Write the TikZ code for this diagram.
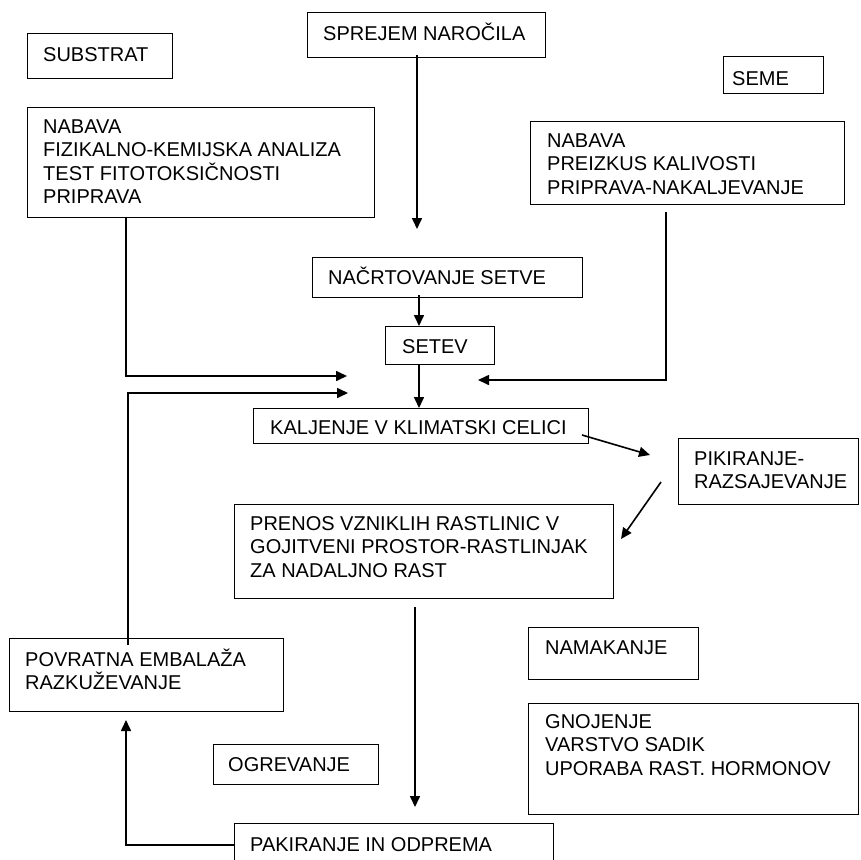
\documentclass[tikz,border=0pt]{standalone}
\usepackage{fontspec}
\setmainfont{Liberation Sans}
\usetikzlibrary{arrows.meta}
\begin{document}
\begin{tikzpicture}[x=1pt,y=-1pt,
  box/.style={draw=black,line width=1.3pt,inner sep=0pt,anchor=north west},
  txt/.style={inner sep=0pt,anchor=north west,align=left,font=\fontsize{20}{23.4}\selectfont},
  conn/.style={line width=1.6pt,draw=black},
  arr/.style={conn,-{Triangle[length=11pt,width=10pt]}}]
\useasboundingbox (0,0) rectangle (860,860);
\clip (0,0) rectangle (860,860);
\newcommand{\fs}{\rule{0pt}{20pt}}
% boxes
\node[box,minimum width=145pt,minimum height=45pt] (substrat) at (27,33) {};
\node[box,minimum width=238pt,minimum height=45pt] (sprejem) at (307,12) {};
\node[box,minimum width=100pt,minimum height=37pt] (seme) at (723,56) {};
\node[box,minimum width=347pt,minimum height=110pt] (nabavas) at (27,107) {};
\node[box,minimum width=314pt,minimum height=83pt] (nabavam) at (530,121) {};
\node[box,minimum width=270pt,minimum height=40pt] (nacrt) at (312,257) {};
\node[box,minimum width=109pt,minimum height=38pt] (setev) at (385,326) {};
\node[box,minimum width=335pt,minimum height=35pt] (kalj) at (253,408) {};
\node[box,minimum width=180pt,minimum height=66pt] (pikir) at (678,438) {};
\node[box,minimum width=379pt,minimum height=94pt] (prenos) at (234,504) {};
\node[box,minimum width=274pt,minimum height=73pt] (povrat) at (9,638) {};
\node[box,minimum width=170pt,minimum height=52pt] (namak) at (528,627) {};
\node[box,minimum width=330pt,minimum height=111pt] (gnoj) at (528,703) {};
\node[box,minimum width=165pt,minimum height=40pt] (ogrev) at (213,744) {};
\node[box,minimum width=319pt,minimum height=57pt] (pakir) at (234,823) {};
% texts
\node[txt] (tsubstrat) at (43,41) {\fs SUBSTRAT};
\node[txt] (tsprejem) at (323,20) {\fs SPREJEM NAROČILA};
\node[txt] (tseme) at (732,65) {\fs SEME};
\node[txt] (tnabavas) at (43,113) {\fs NABAVA\\FIZIKALNO-KEMIJSKA ANALIZA\\TEST FITOTOKSIČNOSTI\\PRIPRAVA};
\node[txt] (tnabavam) at (547,127) {\fs NABAVA\\PREIZKUS KALIVOSTI\\PRIPRAVA-NAKALJEVANJE};
\node[txt] (tnacrt) at (328,264) {\fs NAČRTOVANJE SETVE};
\node[txt] (tsetev) at (402,333) {\fs SETEV};
\node[txt] (tkalj) at (270,414) {\fs KALJENJE V KLIMATSKI CELICI};
\node[txt] (tpikir) at (694,445) {\fs PIKIRANJE-\\RAZSAJEVANJE};
\node[txt] (tprenos) at (250,510) {\fs PRENOS VZNIKLIH RASTLINIC V\\GOJITVENI PROSTOR-RASTLINJAK\\ZA NADALJNO RAST};
\node[txt] (tpovrat) at (25,646) {\fs POVRATNA EMBALAŽA\\RAZKUŽEVANJE};
\node[txt] (togrev) at (228,751) {\fs OGREVANJE};
\node[txt] (tpakir) at (250,831) {\fs PAKIRANJE IN ODPREMA};
\node[txt] (tnamak) at (545,634) {\fs NAMAKANJE};
\node[txt] (tgnoj) at (545,708) {\fs GNOJENJE\\VARSTVO SADIK\\UPORABA RAST. HORMONOV};
% free ends
\coordinate (e1) at (417,229);
\coordinate (e4) at (347,376);
\coordinate (e5) at (348,393);
\coordinate (e6) at (478,380);
\coordinate (e7) at (650,455);
\coordinate (e8) at (621,539);
\coordinate (e9) at (415,807);
\coordinate (e10) at (126,720);
\coordinate (s5) at (128,645);
\coordinate (s6) at (666,212);
\coordinate (s7) at (582,435);
\coordinate (s8) at (661,482);
\coordinate (s9) at (415,607);
% connectors
\draw[arr] ([yshift=3pt]sprejem.south -| e1) -- (e1);
\draw[arr] ([yshift=3pt]nacrt.south -| 419,0) -- (setev.north -| 419,0);
\draw[arr] (setev.south -| 419,0) -- (kalj.north -| 419,0);
\draw[conn,-{Triangle[length=11pt,width=10pt]}] (nabavas.south -| 126,0) |- (e4);
\draw[arr] (s5) |- (e5);
\draw[arr] (s6) |- (e6);
\draw[arr] (s7) -- (e7);
\draw[arr] (s8) -- (e8);
\draw[arr] (s9) -- (e9);
\draw[arr] (pakir.west |- 0,845) -| (e10);
\end{tikzpicture}
\end{document}
